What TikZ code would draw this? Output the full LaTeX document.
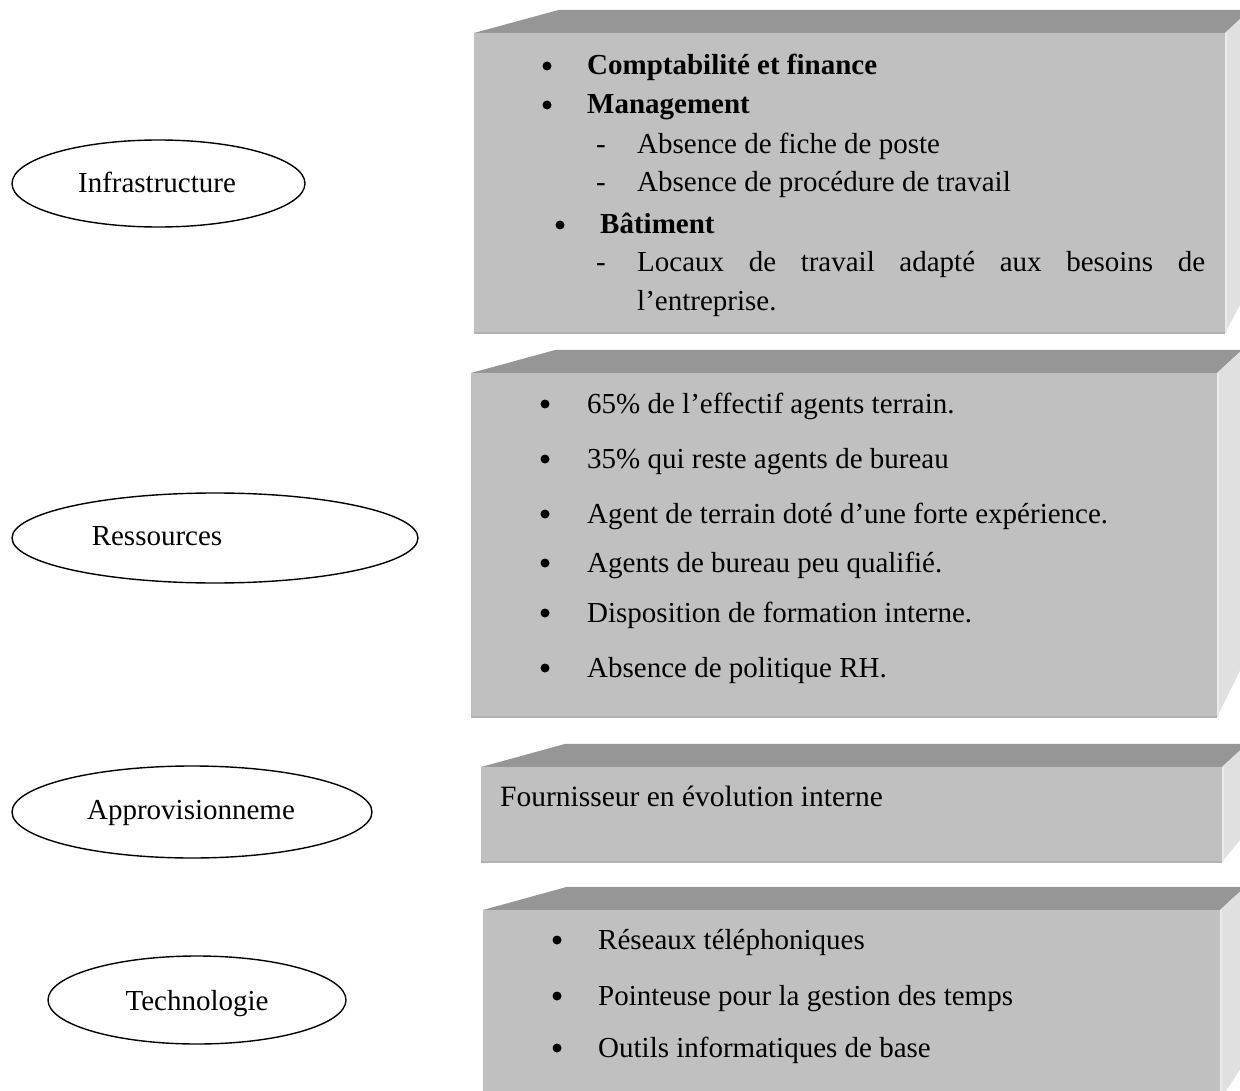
\documentclass[tikz,border=0pt]{standalone}
\usepackage{fontspec}
\setmainfont{Liberation Serif}
\usetikzlibrary{calc,shapes.geometric}

\definecolor{topgray}{HTML}{969696}
\definecolor{frontgray}{HTML}{C0C0C0}
\definecolor{sidegray}{HTML}{E0E0E0}
\definecolor{edgegray}{HTML}{B2B2B2}

\tikzset{
  slab/.style={fill=topgray},
  face/.style={fill=frontgray},
  sideface/.style={fill=sidegray},
  oval/.style={draw, ellipse, line width=1.4pt, inner sep=0pt},
  ovaltext/.style={inner sep=0pt, anchor=base, font=\fontsize{29}{34}\selectfont},
  itemtext/.style={inner sep=0pt, anchor=base west, font=\fontsize{29}{34}\selectfont},
  bigtext/.style={inner sep=0pt, anchor=base west, font=\fontsize{29.5}{34}\selectfont},
  dot/.style={circle, fill=black, inner sep=0pt, minimum size=9pt},
}

% a box drawn as a block in perspective: front face, top slab, right side
% #1 name, (#2,#3) front top left, (#4,#5) front bottom right
\newcommand\cubebox[5]{%
  \coordinate (#1-a) at (#2,#3);
  \coordinate (#1-b) at (#4,#3);
  \coordinate (#1-c) at (#4,#5);
  \coordinate (#1-d) at (#2,#5);
  \coordinate (#1-v) at ($(#1-b)+(315,-290)$);
  \fill[slab] (#1-a) -- ($(#1-a)!0.08!(#1-v)$) -- ($(#1-b)!0.08!(#1-v)$) -- (#1-b) -- cycle;
  \fill[sideface] (#1-b) -- ($(#1-b)!0.08!(#1-v)$) -- ($(#1-c)!0.08!(#1-v)$) -- (#1-c) -- cycle;
  \fill[face] (#1-a) rectangle (#1-c);
  \draw[edgegray, line width=1.5pt] (#1-d) -- (#1-c);
  \draw[white!92!black, line width=2pt] ([xshift=1pt]#1-b) -- ([xshift=1pt]#1-c);
}

\begin{document}
\begin{tikzpicture}[x=1pt, y=-1pt]
\useasboundingbox (0,0) rectangle (1240,1091);
\clip (0,0) rectangle (1240,1091);

% ---- blocks ----
\cubebox{b1}{474}{33}{1225}{333}
\cubebox{b2}{471}{373}{1217}{717}
\cubebox{b3}{481}{767}{1222}{862}
\cubebox{b4}{483}{910}{1220}{1100}

% ---- ovals ----
\node[oval, minimum width=293pt, minimum height=87pt] (o1) at (158.5,183.5) {};
\node[ovaltext] (t1) at (157,193) {Infrastructure};
\node[oval, minimum width=406pt, minimum height=90pt] (o2) at (215,538) {};
\node[ovaltext] (t2) at (157,545) {Ressources};
\node[oval, minimum width=360pt, minimum height=92pt] (o3) at (192,812) {};
\node[ovaltext] (t3) at (191,819) {Approvisionneme};
\node[oval, minimum width=298pt, minimum height=88pt] (o4) at (197,1000) {};
\node[ovaltext] (t4) at (197,1010) {Technologie};

% ---- first block ----
\node[dot] (p1b) at (547,66) {};
\node[itemtext] (p1)  at (587,75) {\bfseries Comptabilité et finance};
\node[dot] (p2b) at (547,105) {};
\node[itemtext] (p2)  at (587,114) {\bfseries Management};
\node[itemtext] (p3d) at (596,154) {-};
\node[itemtext] (p3)  at (637,154) {Absence de fiche de poste};
\node[itemtext] (p4d) at (596,192) {-};
\node[itemtext] (p4)  at (637,192) {Absence de procédure de travail};
\node[dot] (p5b) at (560,225) {};
\node[itemtext] (p5)  at (600,234) {\bfseries Bâtiment};
\node[itemtext] (p6d) at (596,272) {-};
\node[itemtext] (p6)  at (637,272) {\makebox[568pt][s]{Locaux de travail adapté aux besoins de}};
\node[itemtext] (p7)  at (637,311) {l’entreprise.};

% ---- second block ----
\foreach \yy/\txt [count=\i] in {
  404/{65\% de l’effectif agents terrain.},
  459/{35\% qui reste agents de bureau},
  514/{Agent de terrain doté d’une forte expérience.},
  563/{Agents de bureau peu qualifié.},
  613/{Disposition de formation interne.},
  668/{Absence de politique RH.}} {
  \node[dot] (r\i b) at (545,\yy) {};
  \node[itemtext] (r\i) at (587,\yy+9) {\txt};
}

% ---- third block ----
\node[bigtext] (f1) at (500,806) {Fournisseur en évolution interne};

% ---- fourth block ----
\foreach \yy/\txt [count=\i] in {
  940/{Réseaux téléphoniques},
  996/{Pointeuse pour la gestion des temps},
  1048/{Outils informatiques de base}} {
  \node[dot] (s\i b) at (557,\yy) {};
  \node[itemtext] (s\i) at (598,\yy+9) {\txt};
}
\end{tikzpicture}
\end{document}
